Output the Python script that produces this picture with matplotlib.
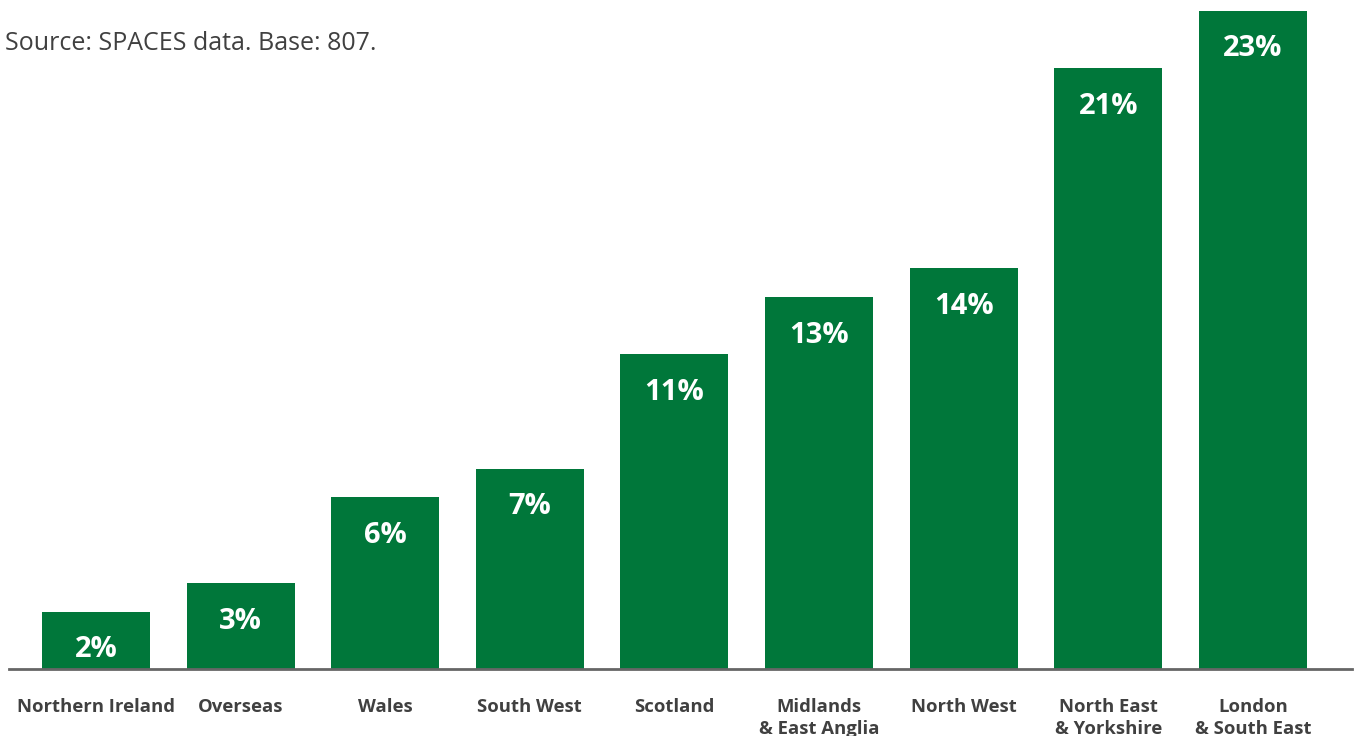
import numpy as np
import matplotlib.pyplot as plt

# region shares, smallest to largest
regions = ["Northern Ireland", "Overseas", "Wales", "South West", "Scotland",
           "Midlands\n& East Anglia", "North West", "North East\n& Yorkshire",
           "London\n& South East"]
shares = [2, 3, 6, 7, 11, 13, 14, 21, 23]

GREEN = "#00773A"
DARK = "#404040"

plt.rcParams['font.family'] = ['Open Sans', 'DejaVu Sans']

fig = plt.figure(figsize=(13.55, 7.36), dpi=100)
ax = fig.add_axes([9 / 1355, 67 / 736, 1343 / 1355, 658 / 736])

x = np.arange(len(regions))
bars = ax.bar(x, shares, width=0.747, color=GREEN, zorder=2)

ax.set_xlim(-0.602, 8.686)
ax.set_ylim(0, 23)

# value labels inside top of each bar
for xi, v in zip(x, shares):
    ax.annotate(f"{v}%", (xi, v), xytext=(0, -38), textcoords="offset pixels",
                ha="center", va="center", color="white", fontsize=21,
                fontweight="bold")

ax.set_xticks(x)
ax.set_xticklabels(regions, fontsize=13.3, fontweight="bold", color=DARK,
                   linespacing=1.3, va="top")
ax.tick_params(axis="x", length=0, pad=21)
ax.set_yticks([])

for s in ["top", "right", "left"]:
    ax.spines[s].set_visible(False)
ax.spines["bottom"].set_color("#666666")
ax.spines["bottom"].set_linewidth(2)

fig.text(5 / 1355, 1 - 43 / 736, "Source: SPACES data. Base: 807.",
         fontsize=18, color=DARK, ha="left", va="center")

fig.savefig("out.png", dpi=100)
